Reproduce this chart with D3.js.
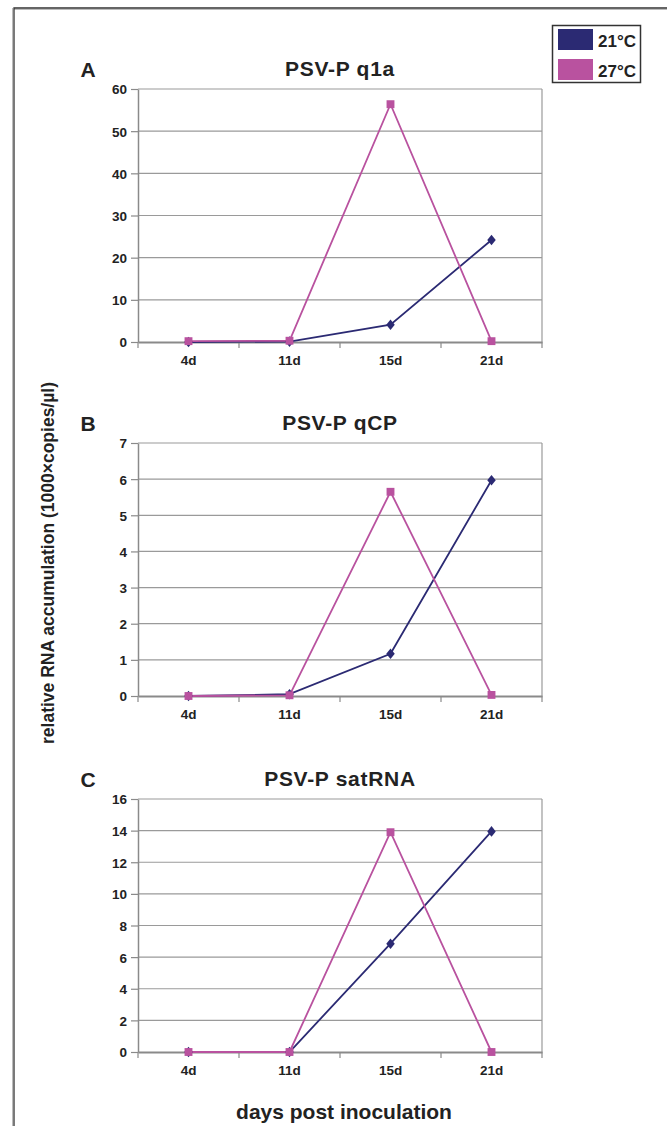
<!DOCTYPE html>
<html>
<head>
<meta charset="utf-8">
<script src="https://cdn.jsdelivr.net/npm/d3@7"></script>
<style>
  body { margin: 0; background: #fff; }
  text { font-family: "Liberation Sans", Arial, Helvetica, sans-serif; font-weight: bold; fill: #222; }
</style>
</head>
<body>
<div id="chart"></div>
<script>
var days = ["4d", "11d", "15d", "21d"];
var seriesNames = ["21°C", "27°C"];
var seriesColors = ["#2b2a73", "#b9529f"];

// panel A: PSV-P q1a
var q1a21 = [0, 0.1, 4.1, 24.2];
var q1a27 = [0.2, 0.3, 56.4, 0.2];
// panel B: PSV-P qCP
var qcp21 = [0, 0.05, 1.17, 5.97];
var qcp27 = [0, 0.02, 5.65, 0.03];
// panel C: PSV-P satRNA
var sat21 = [0, 0, 6.85, 13.95];
var sat27 = [0, 0, 13.9, 0];

var panels = [
    {letter: "A", title: "PSV-P q1a", max: 60, step: 10, s21: q1a21, s27: q1a27, top: 89},
    {letter: "B", title: "PSV-P qCP", max: 7, step: 1, s21: qcp21, s27: qcp27, top: 443},
    {letter: "C", title: "PSV-P satRNA", max: 16, step: 2, s21: sat21, s27: sat27, top: 799}
];

var W = 667, H = 1126;
var left = 138, right = 542, plotH = 253;

var svg = d3.select("#chart").append("svg")
    .attr("width", W)
    .attr("height", H);

// figure frame
svg.append("line").attr("x1", 14).attr("x2", W).attr("y1", 9.5).attr("y2", 9.5)
    .attr("stroke", "#bbb").attr("stroke-width", 1);
svg.append("line").attr("x1", 12.5).attr("x2", 12.5).attr("y1", 8).attr("y2", H)
    .attr("stroke", "#bbb").attr("stroke-width", 1);
svg.append("path").attr("d", "M14," + H + "V8H" + W)
    .attr("fill", "none").attr("stroke", "#333").attr("stroke-width", 1.3);

var x = d3.scaleBand()
    .domain(days)
    .range([left, right])
    .padding(0);

function drawPanel(p) {
    var g = svg.append("g");
    var y = d3.scaleLinear()
        .domain([0, p.max])
        .range([p.top + plotH, p.top]);
    var ticks = d3.range(0, p.max + p.step / 2, p.step);

    // gridlines
    g.selectAll(".grid")
        .data(ticks.slice(1))
        .enter().append("line")
        .attr("x1", left).attr("x2", right)
        .attr("y1", d => y(d)).attr("y2", d => y(d))
        .attr("stroke", "#9a9a9a")
        .attr("stroke-width", 1.2);

    // right border
    g.append("line")
        .attr("x1", right).attr("x2", right)
        .attr("y1", y(p.max)).attr("y2", y(0))
        .attr("stroke", "#9a9a9a").attr("stroke-width", 1.2);

    // y axis
    var yAxis = d3.axisLeft(y).tickValues(ticks).tickFormat(d3.format("d"))
        .tickSize(7).tickPadding(4).tickSizeOuter(0);
    var ya = g.append("g")
        .attr("transform", "translate(" + left + ",0)")
        .call(yAxis);
    ya.select(".domain").attr("stroke", "#8a8a8a").attr("stroke-width", 1.5);
    ya.selectAll(".tick line").attr("stroke", "#8a8a8a").attr("stroke-width", 1.2);
    ya.selectAll(".tick text")
        .attr("dy", "0.36em")
        .style("font-size", "13.5px")
        .style("font-family", "Liberation Sans, Arial, sans-serif")
        .style("font-weight", "bold")
        .attr("fill", "#222");

    // x axis
    var xAxis = d3.axisBottom(x).tickSize(0).tickPadding(13).tickSizeOuter(0);
    var xa = g.append("g")
        .attr("transform", "translate(0," + y(0) + ")")
        .call(xAxis);
    xa.select(".domain").attr("stroke", "#8a8a8a").attr("stroke-width", 2);
    xa.selectAll(".tick text")
        .style("font-size", "13.5px")
        .style("font-family", "Liberation Sans, Arial, sans-serif")
        .style("font-weight", "bold")
        .attr("fill", "#222");
    // tick marks at category boundaries
    var bounds = days.map(d => x(d)).concat([x(days[days.length - 1]) + x.bandwidth()]);
    xa.selectAll(".bound")
        .data(bounds)
        .enter().append("line")
        .attr("x1", d => d).attr("x2", d => d)
        .attr("y1", 0).attr("y2", 6)
        .attr("stroke", "#8a8a8a").attr("stroke-width", 1.2);

    // title and panel letter
    g.append("text")
        .attr("x", (left + right) / 2)
        .attr("y", p.top - 13)
        .attr("text-anchor", "middle")
        .style("font-size", "21px")
        .style("letter-spacing", "0.7px")
        .text(p.title);
    g.append("text")
        .attr("x", 88)
        .attr("y", p.top - 12)
        .attr("text-anchor", "middle")
        .style("font-size", "21px")
        .text(p.letter);

    var cx = d => x(d) + x.bandwidth() / 2;
    var series = [p.s21, p.s27];
    var symbols = [d3.symbolDiamond, d3.symbolSquare];
    var sizes = [40, 62];

    series.forEach(function (vals, i) {
        var line = d3.line()
            .x((v, j) => cx(days[j]))
            .y(v => y(v));
        g.append("path")
            .datum(vals)
            .attr("d", line)
            .attr("fill", "none")
            .attr("stroke", seriesColors[i])
            .attr("stroke-width", 1.8);
    });
    series.forEach(function (vals, i) {
        g.selectAll(".pt" + i)
            .data(vals)
            .enter().append("path")
            .attr("transform", (v, j) => "translate(" + cx(days[j]) + "," + y(v) + ")" + (i === 0 ? " scale(1.25,0.9)" : ""))
            .attr("d", d3.symbol().type(symbols[i]).size(sizes[i]))
            .attr("fill", seriesColors[i]);
    });
}

panels.forEach(drawPanel);

// legend
var lg = svg.append("g");
lg.append("rect")
    .attr("x", 552.5).attr("y", 25.5)
    .attr("width", 88).attr("height", 57)
    .attr("fill", "#fff")
    .attr("stroke", "#333").attr("stroke-width", 1.5);
seriesNames.forEach(function (name, i) {
    lg.append("rect")
        .attr("x", 558).attr("y", 29 + i * 30)
        .attr("width", 35).attr("height", 21)
        .attr("fill", seriesColors[i]);
    lg.append("text")
        .attr("x", 598).attr("y", 46.5 + i * 30)
        .style("font-size", "17px")
        .text(name);
});

// shared axis titles
svg.append("text")
    .attr("transform", "translate(54,563) rotate(-90)")
    .attr("text-anchor", "middle")
    .style("font-size", "17.5px")
    .text("relative RNA accumulation (1000×copies/µl)");

svg.append("text")
    .attr("x", 344)
    .attr("y", 1119)
    .attr("text-anchor", "middle")
    .style("font-size", "21px")
    .text("days post inoculation");
</script>
</body>
</html>
